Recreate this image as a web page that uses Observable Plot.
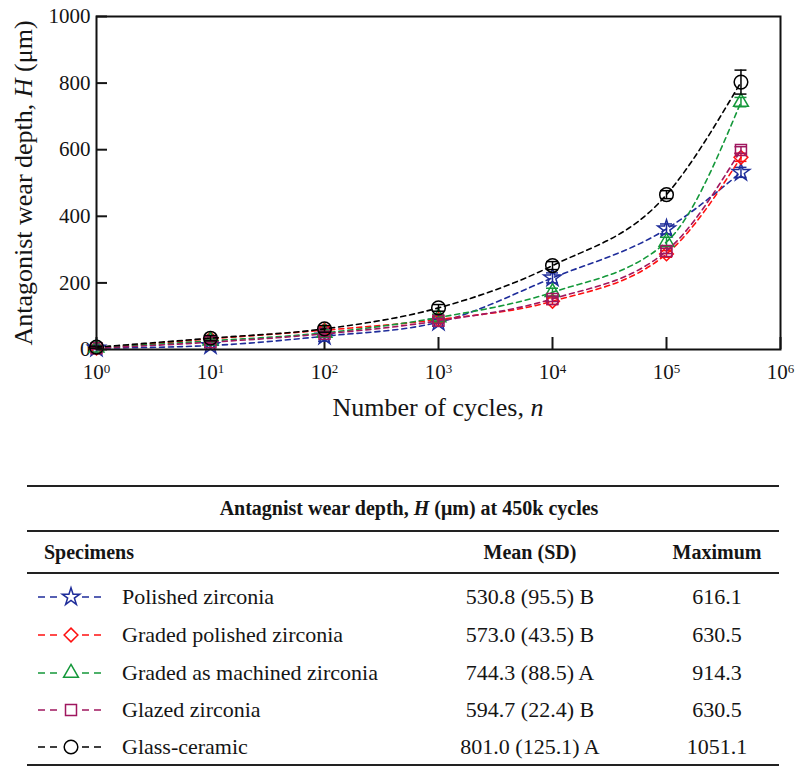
<!DOCTYPE html>
<html><head><meta charset="utf-8">
<script src="https://cdn.jsdelivr.net/npm/d3@7"></script>
<script src="https://cdn.jsdelivr.net/npm/@observablehq/plot@0.6"></script>
<style>
body{margin:0;background:#fff;font-family:"Liberation Serif",Tinos,"Times New Roman",Times,"Nimbus Roman","DejaVu Serif",serif;color:#151515;}
#chart{position:absolute;left:0;top:0;}
#tbl{position:absolute;left:0;top:0;width:800px;height:776px;pointer-events:none;}
.rule{position:absolute;left:27px;width:752px;background:#222;}
.cell{position:absolute;font-size:22px;line-height:24px;white-space:nowrap;}
.b{font-weight:bold;}
.leg{position:absolute;}
</style></head><body>
<div id="chart"></div>
<div id="tbl"></div>
<script>
// ---- data ----
const cycles = [1, 10, 100, 1000, 10000, 100000, 450000];
const specimens = ["Polished zirconia", "Graded polished zirconia", "Graded as machined zirconia", "Glazed zirconia", "Glass-ceramic"];
const polished        = [4, 12, 40, 82, 215, 362, 532];
const gradedPolished  = [4, 32, 58, 90, 145, 287, 577];
const gradedMachined  = [5, 26, 50, 96, 172, 323, 743];
const glazed          = [4, 22, 47, 86, 152, 296, 599];
const glassCeramic    = [7, 34, 62, 125, 252, 465, 803];
const errPolished       = [4, 6, 15, 12, 15, 15, 15];
const errGradedPolished = [3, 6, 10, 10, 10, 10, 12];
const errGradedMachined = [3, 5, 9, 10, 12, 14, 14];
const errGlazed         = [3, 5, 8, 8, 8, 8, 10];
const errGlassCeramic   = [3, 8, 10, 10, 12, 12, 36];
const meanSD  = ["530.8 (95.5) B", "573.0 (43.5) B", "744.3 (88.5) A", "594.7 (22.4) B", "801.0 (125.1) A"];
const maximum = ["616.1", "630.5", "914.3", "630.5", "1051.1"];
const xTicks = [1, 10, 100, 1000, 10000, 100000, 1000000];
const yTicks = [0, 200, 400, 600, 800, 1000];

const colors  = ["#1f2d9a", "#ff1010", "#14983a", "#a0175f", "#000000"];
const symbols = ["star", "diamond2", "triangle", "square", "circle"];
const radii   = [5.5, 6.2, 5.5, 6.2, 6.8];
const values  = [polished, gradedPolished, gradedMachined, glazed, glassCeramic];
const errs    = [errPolished, errGradedPolished, errGradedMachined, errGlazed, errGlassCeramic];

const FONT = "'Liberation Serif',Tinos,'Times New Roman',Times,'Nimbus Roman','DejaVu Serif',serif";
const capK = Math.pow(10, 6 / 114);
const marks = [
  Plot.axisY(yTicks, {tickSize: -11, tickPadding: 17, label: null, strokeWidth: 2, fontSize: 21, tickFormat: d => String(d)}),
  Plot.axisX(xTicks, {tickSize: -12, tickPadding: 27, label: null, strokeWidth: 2, fontSize: 21,
    tickFormat: d => String(Math.round(Math.log10(d)))})
];
specimens.forEach((name, k) => {
  const data = cycles.map((n, i) => ({n, h: values[k][i], e: errs[k][i]}));
  const c = colors[k];
  marks.push(Plot.line(data, {x: "n", y: "h", stroke: c, strokeWidth: 1.6, strokeDasharray: "5,4", curve: "monotone-x"}));
  marks.push(Plot.ruleX(data, {x: "n", y1: d => d.h - d.e, y2: d => d.h + d.e, stroke: c, strokeWidth: 1.5}));
  marks.push(Plot.ruleY(data, {y: d => d.h + d.e, x1: d => d.n / capK, x2: d => d.n * capK, stroke: c, strokeWidth: 1.5}));
  marks.push(Plot.ruleY(data, {y: d => d.h - d.e, x1: d => d.n / capK, x2: d => d.n * capK, stroke: c, strokeWidth: 1.5}));
  marks.push(Plot.dot(data, {x: "n", y: "h", symbol: symbols[k], r: radii[k], stroke: c, fill: "none", strokeWidth: 1.5}));
});
marks.push(Plot.frame({strokeWidth: 2, stroke: "#111"}));

const chart = Plot.plot({
  width: 800, height: 440,
  marginLeft: 96, marginRight: 20, marginTop: 16, marginBottom: 91,
  style: {fontFamily: FONT, fontSize: "22px", color: "#151515", background: "white"},
  x: {type: "log", domain: [1, 1e6]},
  y: {domain: [0, 1000]},
  marks
});
document.getElementById("chart").append(chart);

const svg = d3.select(chart);
svg.selectAll('g[aria-label="x-axis tick label"] text').each(function() {
  const t = d3.select(this); const e = t.text(); t.text(null);
  t.append("tspan").text("10");
  t.append("tspan").attr("dy", "-0.5em").attr("font-size", "13px").text(e);
});
const yl = svg.append("text").attr("transform", "translate(32,183) rotate(-90)")
  .attr("text-anchor", "middle").attr("font-size", 26).attr("fill", "#151515").attr("font-family", FONT);
yl.append("tspan").text("Antagonist wear depth, ");
yl.append("tspan").attr("font-style", "italic").text("H");
yl.append("tspan").text(" (\u03bcm)");
const xl = svg.append("text").attr("x", 438).attr("y", 416)
  .attr("text-anchor", "middle").attr("font-size", 26).attr("fill", "#151515").attr("font-family", FONT);
xl.append("tspan").text("Number of cycles, ");
xl.append("tspan").attr("font-style", "italic").text("n");

// ---- table ----
const tbl = d3.select("#tbl");
[[486, 2], [531, 2], [573, 1.5], [765, 2]].forEach(([y, w]) =>
  tbl.append("div").attr("class", "rule").style("top", (y - w / 2) + "px").style("height", w + "px"));
function cell(text, x, yc, anchor, cls) {
  const d = tbl.append("div").attr("class", "cell" + (cls ? " " + cls : "")).style("top", (yc - 12) + "px");
  if (anchor === "middle") d.style("left", (x - 300) + "px").style("width", "600px").style("text-align", "center");
  else d.style("left", x + "px");
  d.html(text);
  return d;
}
cell("Antagnist wear depth, <i>H</i> (\u03bcm) at 450k cycles", 409, 508, "middle", "b").style("font-size", "20px");
cell("Specimens", 44, 552, "start", "b").style("font-size", "20px");
cell("Mean (SD)", 530, 552, "middle", "b").style("font-size", "20px");
cell("Maximum", 717, 552, "middle", "b").style("font-size", "20px");
const rowY = [597, 635, 673, 710, 747];
const symMap = {star: d3.symbolStar, diamond2: d3.symbolDiamond2, triangle: d3.symbolTriangle, square: d3.symbolSquare, circle: d3.symbolCircle};
specimens.forEach((name, k) => {
  const y = rowY[k];
  const s = tbl.append("svg").attr("class", "leg").attr("width", 74).attr("height", 26)
    .style("left", "34px").style("top", (y - 13) + "px");
  s.append("line").attr("x1", 4).attr("x2", 28).attr("y1", 13).attr("y2", 13)
    .attr("stroke", colors[k]).attr("stroke-width", 1.5).attr("stroke-dasharray", "7,5");
  s.append("line").attr("x1", 46).attr("x2", 70).attr("y1", 13).attr("y2", 13)
    .attr("stroke", colors[k]).attr("stroke-width", 1.5).attr("stroke-dasharray", "7,5").attr("stroke-dashoffset", -2);
  const r = radii[k];
  s.append("path").attr("transform", "translate(37,13)")
    .attr("d", d3.symbol(symMap[symbols[k]], Math.PI * r * r)())
    .attr("fill", "none").attr("stroke", colors[k]).attr("stroke-width", 1.5);
  cell(name, 122, y, "start");
  cell(meanSD[k], 530, y, "middle");
  cell(maximum[k], 717, y, "middle");
});
</script>
</body></html>
